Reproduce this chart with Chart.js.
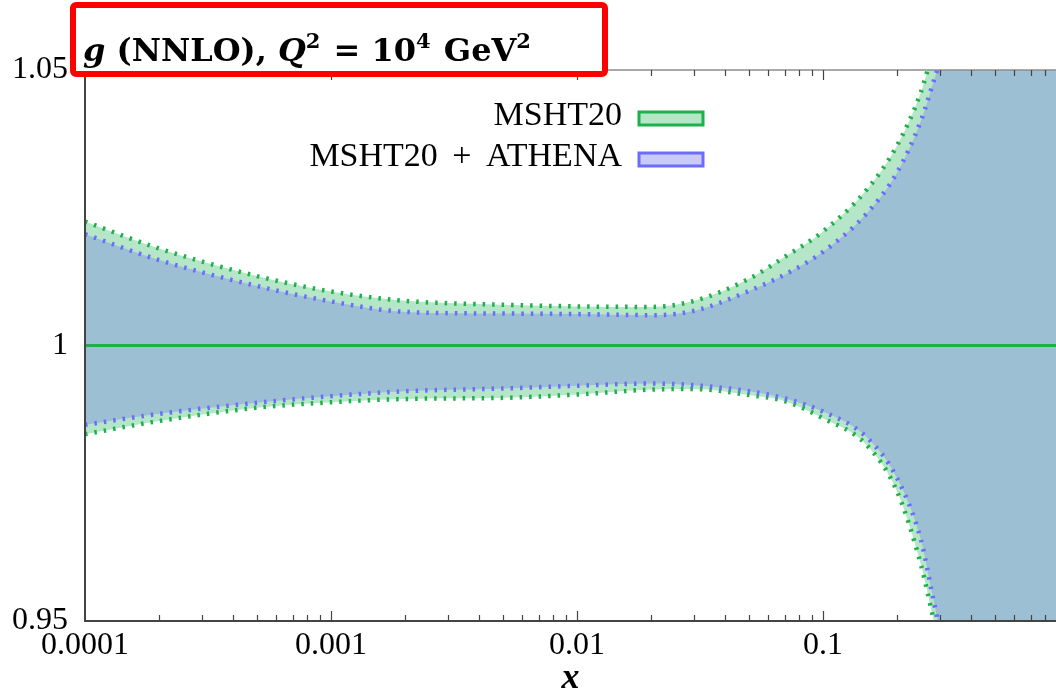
<!DOCTYPE html>
<html lang="en">
<head>
    <meta charset="UTF-8">
    <title>g (NNLO), Q2 = 10^4 GeV2</title>
    <style>
        html, body {
            margin: 0;
            padding: 0;
            background: #ffffff;
        }
        canvas {
            display: block;
        }
    </style>
</head>
<body>
    <canvas id="gluonChart" width="1056" height="690"></canvas>

    <script src="https://cdn.jsdelivr.net/npm/chart.js@4.4.3/dist/chart.umd.min.js"></script>
    <script>
        // x grid shared by all curves
        const xValues = [0.0001, 0.0002, 0.0005, 0.001, 0.002, 0.005, 0.01, 0.02, 0.03, 0.05, 0.07,
                         0.1, 0.15, 0.2, 0.25, 0.28, 0.3, 0.4, 0.6, 0.885];
        // ratio to central value
        const centralRatio = [1, 1, 1, 1, 1, 1, 1, 1, 1, 1, 1, 1, 1, 1, 1, 1, 1, 1, 1, 1];
        const mshtUpper = [1.0225, 1.0176, 1.0126, 1.0098, 1.0081, 1.0074, 1.0071, 1.0070, 1.0081, 1.0121, 1.0161,
                           1.0207, 1.0282, 1.0363, 1.0460, 1.0534, 1.0574, 1.080, 1.130, 1.200];
        const mshtLower = [0.9839, 0.9863, 0.9887, 0.9897, 0.9903, 0.9905, 0.9911, 0.9920, 0.9921, 0.9910, 0.9899,
                           0.9868, 0.9820, 0.9735, 0.9602, 0.9507, 0.9450, 0.920, 0.880, 0.800];
        const athenaUpper = [1.0202, 1.0155, 1.0108, 1.0080, 1.0061, 1.0058, 1.0057, 1.0055, 1.0063, 1.0099, 1.0129,
                             1.0170, 1.0239, 1.0314, 1.0408, 1.0476, 1.0520, 1.075, 1.120, 1.190];
        const athenaLower = [0.9856, 0.9876, 0.9896, 0.9908, 0.9917, 0.9922, 0.9927, 0.9931, 0.9928, 0.9917, 0.9904,
                             0.9880, 0.9834, 0.9759, 0.9647, 0.9542, 0.9478, 0.925, 0.885, 0.810];

        const xMajorTicks = [0.0001, 0.001, 0.01, 0.1];
        const xTickLabels = ['0.0001', '0.001', '0.01', '0.1'];
        const yTickValues = [0.95, 1, 1.05];
        const yTickLabels = ['0.95', '1', '1.05'];
        const seriesLabels = ['MSHT20', 'MSHT20 + ATHENA'];

        const GREEN = '#1eb04b';
        const GREEN_FILL = '#b4e6c7';
        const BLUE = '#6b6bff';
        const BLUE_FILL = '#c9c9fa';
        const OVERLAP = '#9cbfd3';

        const pts = arr => xValues.map((x, i) => ({ x: x, y: arr[i] }));

        const dotted = {
            borderWidth: 4.5,
            borderDash: [2.5, 7],
            borderCapStyle: 'butt',
            pointRadius: 0,
            cubicInterpolationMode: 'monotone'
        };

        // legend: text on the left, box on the right
        const legendRight = {
            id: 'legendRight',
            afterDraw(chart) {
                const ctx = chart.ctx;
                const items = [
                    { text: seriesLabels[0], stroke: GREEN, fill: GREEN_FILL, y: 125 },
                    { text: seriesLabels[1], stroke: BLUE, fill: BLUE_FILL, y: 166 }
                ];
                ctx.save();
                ctx.font = '34px "Liberation Serif"';
                ctx.wordSpacing = '6px';
                ctx.textAlign = 'right';
                ctx.textBaseline = 'alphabetic';
                items.forEach(it => {
                    ctx.fillStyle = '#000';
                    ctx.fillText(it.text, 622, it.y);
                    ctx.fillStyle = it.fill;
                    ctx.fillRect(639, it.y - 13, 64, 13);
                    ctx.strokeStyle = it.stroke;
                    ctx.lineWidth = 3;
                    ctx.strokeRect(639, it.y - 13, 64, 13);
                });
                ctx.restore();
            }
        };

        // inward tick marks on bottom and top edges, top frame line
        const frameTicks = {
            id: 'frameTicks',
            afterDraw(chart) {
                const ctx = chart.ctx;
                const a = chart.chartArea;
                const xs = chart.scales.x;
                ctx.save();
                ctx.strokeStyle = '#8c8c8c';
                ctx.lineWidth = 1.5;
                ctx.beginPath();
                ctx.moveTo(a.left, a.top);
                ctx.lineTo(a.right, a.top);
                ctx.stroke();

                ctx.strokeStyle = '#444';
                ctx.lineWidth = 1.2;
                xs.ticks.forEach(t => {
                    const px = Math.round(xs.getPixelForValue(t.value)) + 0.5;
                    if (px <= a.left + 1 || px >= a.right) return;
                    const len = t.major ? 10 : 6;
                    ctx.beginPath();
                    ctx.moveTo(px, a.bottom);
                    ctx.lineTo(px, a.bottom - len);
                    ctx.moveTo(px, a.top);
                    ctx.lineTo(px, a.top + len);
                    ctx.stroke();
                });
                ctx.restore();
            }
        };

        // title in a red box
        const titleBox = {
            id: 'titleBox',
            afterDraw(chart) {
                const ctx = chart.ctx;
                ctx.save();
                ctx.fillStyle = '#ffffff';
                ctx.strokeStyle = '#ff0000';
                ctx.lineWidth = 6;
                ctx.beginPath();
                ctx.roundRect(73, 5, 532, 69, 3);
                ctx.fill();
                ctx.stroke();

                const big = 32, small = 21;
                const parts = [
                    { t: 'g', it: true },
                    { t: ' (NNLO), ' },
                    { t: 'Q', it: true },
                    { t: '2', sup: true },
                    { t: ' = ' },
                    { t: '10' },
                    { t: '4', sup: true },
                    { t: ' GeV' },
                    { t: '2', sup: true }
                ];
                let x = 83;
                const base = 61;
                ctx.fillStyle = '#000';
                ctx.textBaseline = 'alphabetic';
                ctx.textAlign = 'left';
                parts.forEach(p => {
                    const size = p.sup ? small : big;
                    ctx.font = (p.it ? 'italic ' : '') + 'bold ' + size + 'px "DejaVu Serif"';
                    ctx.fillText(p.t, x, p.sup ? base - 13 : base);
                    x += ctx.measureText(p.t).width + (p.sup ? 2 : 0);
                });
                ctx.restore();
            }
        };

        new Chart(document.getElementById('gluonChart'), {
            type: 'line',
            data: {
                datasets: [
                    {
                        label: 'central',
                        data: pts(centralRatio),
                        borderColor: GREEN,
                        borderWidth: 3,
                        pointRadius: 0,
                        fill: false
                    },
                    Object.assign({
                        label: seriesLabels[1],
                        data: pts(athenaUpper),
                        borderColor: BLUE,
                        backgroundColor: OVERLAP,
                        fill: '+1'
                    }, dotted),
                    Object.assign({
                        label: seriesLabels[1] + ' (lower)',
                        data: pts(athenaLower),
                        borderColor: BLUE,
                        fill: false
                    }, dotted),
                    Object.assign({
                        label: seriesLabels[0],
                        data: pts(mshtUpper),
                        borderColor: GREEN,
                        backgroundColor: GREEN_FILL,
                        fill: '+1'
                    }, dotted),
                    Object.assign({
                        label: seriesLabels[0] + ' (lower)',
                        data: pts(mshtLower),
                        borderColor: GREEN,
                        fill: false
                    }, dotted)
                ]
            },
            options: {
                responsive: false,
                animation: false,
                layout: { padding: { top: 70, left: 0, right: 0, bottom: 0 } },
                plugins: {
                    legend: { display: false },
                    tooltip: { enabled: false },
                    filler: { drawTime: 'beforeDatasetsDraw' }
                },
                scales: {
                    x: {
                        type: 'logarithmic',
                        min: 0.0001,
                        max: 0.885,
                        afterBuildTicks: scale => {
                            const ticks = [];
                            xMajorTicks.forEach(m => {
                                for (let k = 1; k <= 9; k++) {
                                    if (m * k <= scale.max) ticks.push({ value: m * k, major: k === 1 });
                                }
                            });
                            scale.ticks = ticks;
                        },
                        afterFit: scale => { scale.height = 69; },
                        grid: { display: false, drawTicks: false },
                        border: { display: true, color: '#444', width: 2, z: 1 },
                        ticks: {
                            autoSkip: false,
                            maxRotation: 0,
                            padding: 5,
                            color: '#000',
                            font: { family: '"Liberation Serif"', size: 32 },
                            callback: (value, index, ticks) => {
                                const j = xMajorTicks.findIndex(m => Math.abs(Math.log10(m) - Math.log10(value)) < 1e-6);
                                return j >= 0 ? xTickLabels[j] : '';
                            }
                        },
                        title: {
                            display: true,
                            text: 'x',
                            color: '#000',
                            padding: 0,
                            font: { family: '"Liberation Serif"', size: 36, style: 'italic', weight: 'bold', lineHeight: 0.6 }
                        }
                    },
                    y: {
                        min: 0.95,
                        max: 1.05,
                        afterBuildTicks: scale => {
                            scale.ticks = yTickValues.map(v => ({ value: v }));
                        },
                        afterFit: scale => { scale.width = 85; },
                        grid: { display: false, drawTicks: false },
                        border: { display: true, color: '#444', width: 2, z: 1 },
                        ticks: {
                            padding: 17,
                            color: '#000',
                            font: { family: '"Liberation Serif"', size: 32 },
                            callback: (value, index) => yTickLabels[index]
                        }
                    }
                }
            },
            plugins: [frameTicks, legendRight, titleBox]
        });
    </script>
</body>
</html>
